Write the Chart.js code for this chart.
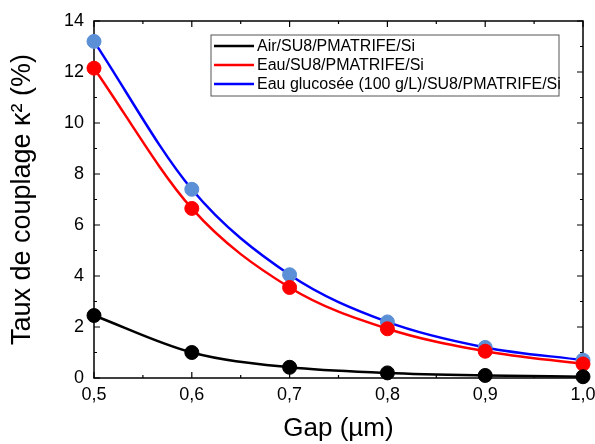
<!DOCTYPE html>
<html>
<head>
<meta charset="utf-8">
<script src="https://cdn.jsdelivr.net/npm/chart.js@4"></script>
<style>
  html, body { margin: 0; padding: 0; background: #fff; }
  #wrap { width: 595px; height: 444px; }
</style>
</head>
<body>
<div id="wrap"><canvas id="chart" width="595" height="444"></canvas></div>
<script>
// data
const gaps = [0.5, 0.6, 0.7, 0.8, 0.9, 1.0];
const airValues = [2.45, 1.0, 0.42, 0.2, 0.1, 0.05];
const eauValues = [12.15, 6.65, 3.55, 1.93, 1.05, 0.55];
const glucoseValues = [13.2, 7.4, 4.05, 2.2, 1.2, 0.7];
const seriesLabels = ['Air/SU8/PMATRIFE/Si', 'Eau/SU8/PMATRIFE/Si', 'Eau glucosée (100 g/L)/SU8/PMATRIFE/Si'];
const lineColors = ['#000000', '#ff0000', '#0000ff'];
const markerColors = ['#000000', '#ff0000', '#5b8fd6'];
const yTicks = [0, 2, 4, 6, 8, 10, 12, 14];
const xTicks = [0.5, 0.6, 0.7, 0.8, 0.9, 1.0];

const FONT = '"Liberation Sans", Arial, sans-serif';
const allValues = [airValues, eauValues, glucoseValues];
const toPoints = vals => gaps.map((g, i) => ({ x: g, y: vals[i] }));

const datasets = [];
allValues.forEach((vals, i) => {
    datasets.push({
        type: 'line',
        label: seriesLabels[i],
        data: toPoints(vals),
        borderColor: lineColors[i],
        borderWidth: 2.5,
        pointRadius: 0,
        cubicInterpolationMode: 'monotone',
        fill: false,
        clip: false,
        order: 2
    });
});
allValues.forEach((vals, i) => {
    datasets.push({
        type: 'scatter',
        label: seriesLabels[i] + ' pts',
        data: toPoints(vals),
        backgroundColor: markerColors[i],
        borderColor: markerColors[i],
        pointRadius: 7,
        clip: false,
        order: 1
    });
});

// frame, inward ticks and legend box
const framePlugin = {
    id: 'frame',
    beforeDatasetsDraw(chart) {
        const ctx = chart.ctx;
        const a = chart.chartArea;
        const xs = chart.scales.x, ys = chart.scales.y;
        ctx.save();
        ctx.strokeStyle = '#000';
        ctx.lineWidth = 1.5;
        ctx.strokeRect(a.left, a.top, a.right - a.left, a.bottom - a.top);
        ctx.lineWidth = 1.2;
        ctx.beginPath();
        for (let v = 0; v <= 14; v += 1) {
            const len = v % 2 === 0 ? 6 : 3;
            const py = ys.getPixelForValue(v);
            ctx.moveTo(a.left, py); ctx.lineTo(a.left + len, py);
            ctx.moveTo(a.right, py); ctx.lineTo(a.right - len, py);
        }
        for (let k = 0; k <= 10; k++) {
            const v = 0.5 + k * 0.05;
            const len = k % 2 === 0 ? 6 : 3;
            const px = xs.getPixelForValue(v);
            ctx.moveTo(px, a.bottom); ctx.lineTo(px, a.bottom - len);
            ctx.moveTo(px, a.top); ctx.lineTo(px, a.top + len);
        }
        ctx.stroke();
        ctx.restore();
    },
    afterDraw(chart) {
        const ctx = chart.ctx;
        ctx.save();
        const lx = 211, ly = 35, lw = 348, lh = 61;
        ctx.fillStyle = '#fff';
        ctx.fillRect(lx, ly, lw, lh);
        ctx.strokeStyle = '#555';
        ctx.lineWidth = 1;
        ctx.strokeRect(lx, ly, lw, lh);
        ctx.font = '16px ' + FONT;
        ctx.textBaseline = 'middle';
        seriesLabels.forEach((lab, i) => {
            const cy = ly + 11 + i * 19;
            ctx.strokeStyle = lineColors[i];
            ctx.lineWidth = 2.5;
            ctx.beginPath();
            ctx.moveTo(lx + 3, cy); ctx.lineTo(lx + 43, cy);
            ctx.stroke();
            ctx.fillStyle = '#000';
            ctx.fillText(lab, lx + 46, cy + 1);
        });
        ctx.restore();
    }
};

new Chart(document.getElementById('chart').getContext('2d'), {
    data: { datasets: datasets },
    options: {
        responsive: false,
        animation: false,
        layout: { padding: { top: 21, right: 12, left: 6, bottom: 0 } },
        plugins: { legend: { display: false }, tooltip: { enabled: false } },
        scales: {
            x: {
                type: 'linear',
                min: 0.5,
                max: 1.0,
                afterBuildTicks: s => { s.ticks = xTicks.map(v => ({ value: v })); },
                afterFit: s => { s.height = 66; s.paddingLeft = 0; s.paddingRight = 0; },
                grid: { display: false, drawTicks: false },
                border: { display: false },
                ticks: {
                    color: '#000',
                    padding: 6,
                    font: { family: FONT, size: 18 },
                    callback: v => v.toFixed(1).replace('.', ',')
                },
                title: {
                    display: true,
                    text: 'Gap (µm)',
                    color: '#000',
                    padding: { top: 12, bottom: 0 },
                    font: { family: FONT, size: 26 }
                }
            },
            y: {
                type: 'linear',
                min: 0,
                max: 14,
                afterBuildTicks: s => { s.ticks = yTicks.map(v => ({ value: v })); },
                afterFit: s => { s.width = 88; s.paddingTop = 0; s.paddingBottom = 0; },
                grid: { display: false, drawTicks: false },
                border: { display: false },
                ticks: {
                    color: '#000',
                    padding: 10,
                    font: { family: FONT, size: 18 }
                },
                title: {
                    display: true,
                    text: 'Taux de couplage κ² (%)',
                    color: '#000',
                    padding: { top: 0, bottom: 0 },
                    font: { family: FONT, size: 27 }
                }
            }
        }
    },
    plugins: [framePlugin]
});
</script>
</body>
</html>
